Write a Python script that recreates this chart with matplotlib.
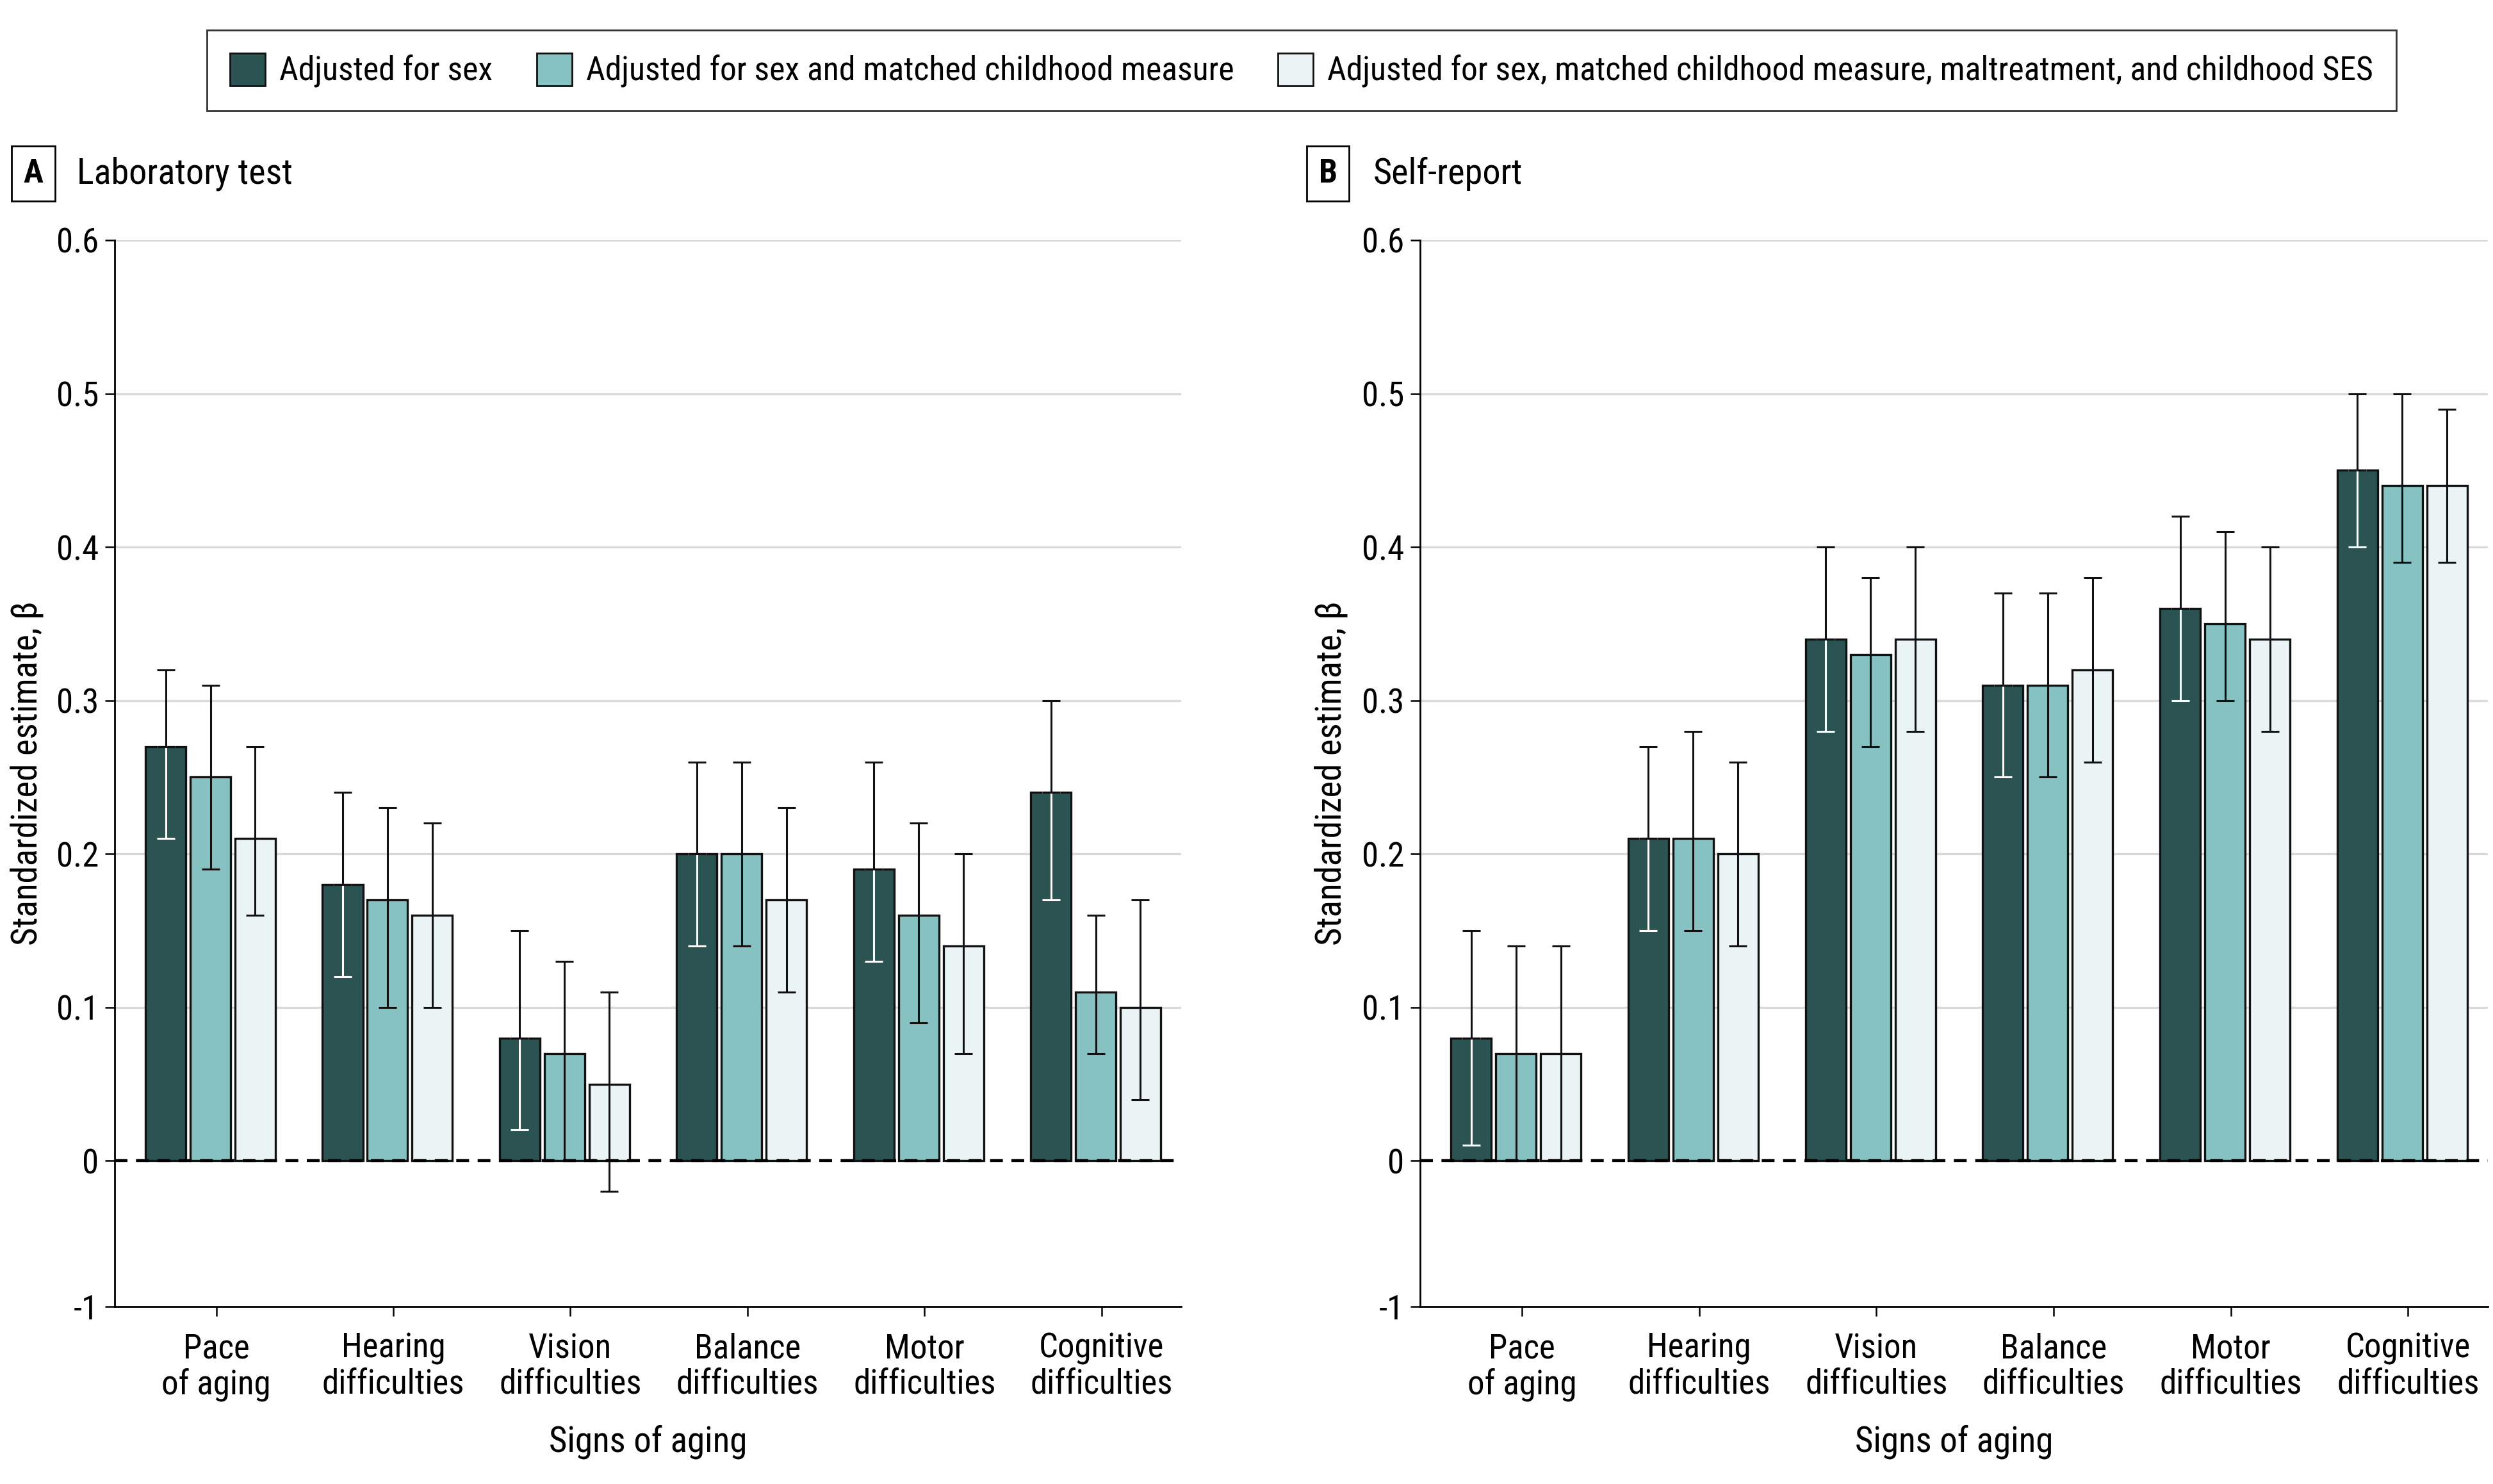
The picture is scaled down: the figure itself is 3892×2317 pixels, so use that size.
import matplotlib
matplotlib.use("Agg")
import matplotlib.pyplot as plt
from matplotlib.patches import Patch
from matplotlib import font_manager as fm
import numpy as np

categories = ["Pace\nof aging", "Hearing\ndifficulties", "Vision\ndifficulties",
              "Balance\ndifficulties", "Motor\ndifficulties", "Cognitive\ndifficulties"]
series_names = ["Adjusted for sex",
                "Adjusted for sex and matched childhood measure",
                "Adjusted for sex, matched childhood measure, maltreatment, and childhood SES"]

# Panel A: Laboratory test
lab_est = [[0.27, 0.18, 0.08, 0.20, 0.19, 0.24],
           [0.25, 0.17, 0.07, 0.20, 0.16, 0.11],
           [0.21, 0.16, 0.05, 0.17, 0.14, 0.10]]
lab_lo = [[0.21, 0.12, 0.02, 0.14, 0.13, 0.17],
          [0.19, 0.10, 0.00, 0.14, 0.09, 0.07],
          [0.16, 0.10, -0.02, 0.11, 0.07, 0.04]]
lab_hi = [[0.32, 0.24, 0.15, 0.26, 0.26, 0.30],
          [0.31, 0.23, 0.13, 0.26, 0.22, 0.16],
          [0.27, 0.22, 0.11, 0.23, 0.20, 0.17]]

# Panel B: Self-report
self_est = [[0.08, 0.21, 0.34, 0.31, 0.36, 0.45],
            [0.07, 0.21, 0.33, 0.31, 0.35, 0.44],
            [0.07, 0.20, 0.34, 0.32, 0.34, 0.44]]
self_lo = [[0.01, 0.15, 0.28, 0.25, 0.30, 0.40],
           [0.00, 0.15, 0.27, 0.25, 0.30, 0.39],
           [0.00, 0.14, 0.28, 0.26, 0.28, 0.39]]
self_hi = [[0.15, 0.27, 0.40, 0.37, 0.42, 0.50],
           [0.14, 0.28, 0.38, 0.37, 0.41, 0.50],
           [0.14, 0.26, 0.40, 0.38, 0.40, 0.49]]

ytick_vals = [-0.095, 0, 0.1, 0.2, 0.3, 0.4, 0.5, 0.6]
ytick_labels = ["-1", "0", "0.1", "0.2", "0.3", "0.4", "0.5", "0.6"]
grid_vals = [0.1, 0.2, 0.3, 0.4, 0.5, 0.6]

colors = ["#2a5352", "#86c2c1", "#eaf4f5"]

# ---- pick a condensed font if one is installed ----
def pick_font():
    cands = []
    for f in fm.fontManager.ttflist:
        st = f.stretch
        cond = ("Condensed" in f.name or "Narrow" in f.name or
                st in ("condensed", "semi-condensed", "extra-condensed") or
                (isinstance(st, (int, float)) and st < 500))
        if not cond or f.style != "normal":
            continue
        if "CJK" in f.name or "Mono" in f.name or "Serif" in f.name:
            continue
        pr = 9
        for k, key in enumerate(["Roboto", "Noto Sans", "Open Sans", "DejaVu Sans", "Liberation", "Lato", "Inter"]):
            if key in f.name:
                pr = k
                break
        srank = {"semi-condensed": 0, "condensed": 1}.get(st, 2) if isinstance(st, str) else 2
        cands.append((pr, srank, f.name, st))
    if cands:
        cands.sort()
        return cands[0][2], cands[0][3]
    return "Roboto", "normal"

fam, stretch = pick_font()
plt.rcParams['font.family'] = [fam, 'DejaVu Sans']
plt.rcParams['font.stretch'] = stretch

W, H = 3892, 2317
fig = plt.figure(figsize=(W / 100, H / 100), dpi=100)
renderer = fig.canvas.get_renderer()

# fit font size so that the long legend entry has the reference width
probe = fig.text(0, 0, series_names[2], fontsize=38)
w38 = probe.get_window_extent(renderer).width
probe.remove()
FS = 38 * 1633.0 / w38
FS = max(30, min(FS, 44))
fs_px = FS * 100 / 72.0
FS_TICK = FS * 1.02
FS_LAB = FS * 1.06
FS_TITLE = FS * 1.085

axA = fig.add_axes([179 / W, 1 - 2040 / H, 1665 / W, 1665 / H])
axB = fig.add_axes([2217 / W, 1 - 2040 / H, 1667 / W, 1665 / H])

x = np.arange(len(categories))
step = 0.253
width = 0.228
shift = -0.033

def draw(ax, est, lo, hi):
    for g in grid_vals:
        ax.axhline(g, color="#d9d9d9", lw=2.4, zorder=0)
    for i in range(3):
        pos = x + shift + (i - 1) * step
        e = np.array(est[i]); l = np.array(lo[i]); h = np.array(hi[i])
        ax.bar(pos, e, width=width, color=colors[i], edgecolor="#111111",
               linewidth=2.4, zorder=2)
        if i == 0:
            ax.errorbar(pos, e, yerr=[e - l, np.zeros_like(e)], fmt="none",
                        ecolor="white", elinewidth=2.2, capsize=10, capthick=2.2, zorder=3)
            ax.errorbar(pos, e, yerr=[np.zeros_like(e), h - e], fmt="none",
                        ecolor="#111111", elinewidth=2.2, capsize=10, capthick=2.2, zorder=4)
        else:
            ax.errorbar(pos, e, yerr=[e - l, h - e], fmt="none",
                        ecolor="#111111", elinewidth=2.2, capsize=10, capthick=2.2, zorder=4)
    ax.axhline(0, color="black", lw=3.2, linestyle=(0, (4.5, 3)), zorder=5)
    ax.set_xlim(-0.574, 5.45)
    ax.set_ylim(-0.095, 0.6)
    ax.set_yticks(ytick_vals)
    ax.set_yticklabels(ytick_labels)
    ax.set_xticks(x)
    ax.set_xticklabels(categories, linespacing=1.12)
    for s in ["top", "right"]:
        ax.spines[s].set_visible(False)
    for s in ["left", "bottom"]:
        ax.spines[s].set_linewidth(2.0)
    ax.tick_params(axis="y", labelsize=FS_TICK, length=11, width=1.8, pad=7)
    ax.tick_params(axis="x", labelsize=FS_TICK, length=11, width=1.8, pad=18)
    ax.set_ylabel("Standardized estimate, β", fontsize=FS_LAB)
    ax.set_xlabel("Signs of aging", fontsize=FS_LAB, labelpad=26)

draw(axA, lab_est, lab_lo, lab_hi)
draw(axB, self_est, self_lo, self_hi)
axA.yaxis.set_label_coords((69 - 179) / 1665, 0.5)
axB.yaxis.set_label_coords((2105 - 2217) / 1667, 0.5)

# panel labels
ty = 1 - 271 / H
for cx, tx, letter, title in [(52, 120, "A", "Laboratory test"),
                              (2073, 2144, "B", "Self-report")]:
    fig.text(cx / W, ty, letter, fontsize=FS, fontweight="bold", ha="center", va="center",
             bbox=dict(boxstyle="square,pad=0.35", fc="white", ec="black", lw=2))
    fig.text(tx / W, ty, title, fontsize=FS_TITLE, ha="left", va="center")

handles = [Patch(facecolor=c, edgecolor="#111111", linewidth=2.0) for c in colors]
leg = fig.legend(handles, series_names, loc="center", bbox_to_anchor=(2032 / W, 1 - 110 / H),
                 ncol=3, fontsize=FS, frameon=True, fancybox=False, edgecolor="black",
                 handlelength=55 / fs_px, handleheight=60 / fs_px,
                 handletextpad=22 / fs_px, columnspacing=69 / fs_px,
                 borderpad=0.68, borderaxespad=0)
leg.get_frame().set_linewidth(2.0)

fig.savefig("out.png", dpi=100, facecolor="white")
